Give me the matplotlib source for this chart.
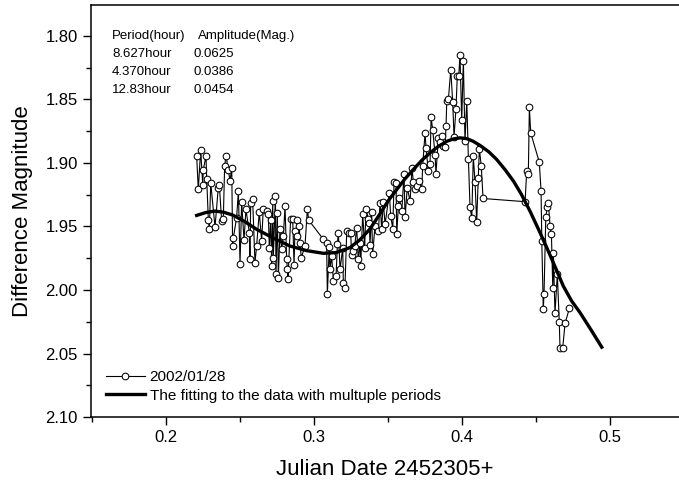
import matplotlib
matplotlib.use("Agg")
import matplotlib.pyplot as plt
from matplotlib.ticker import MultipleLocator

plt.rcParams['font.family'] = ['Liberation Sans', 'DejaVu Sans']

# observed points, 2002/01/28 (x = JD - 2452305)
obs_x = [0.2207, 0.2218, 0.2234, 0.2248, 0.2252, 0.2270, 0.2275, 0.2286, 0.2293, 0.2302,
         0.2331, 0.2353, 0.2360, 0.2376, 0.2387, 0.2396, 0.2405, 0.2421, 0.2432, 0.2444,
         0.2450, 0.2455, 0.2477, 0.2489, 0.2500, 0.2511, 0.2527, 0.2540, 0.2563, 0.2567,
         0.2572, 0.2585, 0.2601, 0.2612, 0.2630, 0.2646, 0.2657, 0.2680, 0.2691, 0.2698,
         0.2707, 0.2714, 0.2721, 0.2725, 0.2739, 0.2743, 0.2752, 0.2759, 0.2770, 0.2781,
         0.2793, 0.2804, 0.2815, 0.2820, 0.2824, 0.2842, 0.2856, 0.2865, 0.2871, 0.2883,
         0.2887, 0.2901, 0.2905, 0.2914, 0.2939, 0.2955, 0.2964, 0.3063, 0.3085, 0.3090,
         0.3103, 0.3108, 0.3119, 0.3131, 0.3149, 0.3158, 0.3164, 0.3176, 0.3194, 0.3198,
         0.3209, 0.3221, 0.3239, 0.3248, 0.3254, 0.3266, 0.3275, 0.3288, 0.3299, 0.3311,
         0.3315, 0.3329, 0.3342, 0.3351, 0.3367, 0.3374, 0.3378, 0.3389, 0.3396, 0.3412,
         0.3435, 0.3446, 0.3457, 0.3468, 0.3480, 0.3509, 0.3518, 0.3532, 0.3541, 0.3554,
         0.3559, 0.3570, 0.3576, 0.3593, 0.3608, 0.3615, 0.3630, 0.3649, 0.3662, 0.3671,
         0.3682, 0.3694, 0.3711, 0.3728, 0.3734, 0.3750, 0.3757, 0.3772, 0.3784, 0.3791,
         0.3802, 0.3818, 0.3824, 0.3840, 0.3851, 0.3863, 0.3870, 0.3885, 0.3892, 0.3897,
         0.3908, 0.3924, 0.3937, 0.3946, 0.3959, 0.3968, 0.3978, 0.3986, 0.3998, 0.4009,
         0.4020, 0.4032, 0.4043, 0.4054, 0.4066, 0.4076, 0.4088, 0.4099, 0.4110, 0.4117,
         0.4130, 0.4142, 0.4426, 0.4437, 0.4448, 0.4455, 0.4464, 0.4522, 0.4534, 0.4539,
         0.4549, 0.4554, 0.4566, 0.4576, 0.4583, 0.4595, 0.4604, 0.4613, 0.4617, 0.4628,
         0.4644, 0.4657, 0.4662, 0.4680, 0.4696, 0.4725]
obs_y = [1.8947, 1.9209, 1.8900, 1.9170, 1.9052, 1.8947, 1.9130, 1.9450, 1.9523, 1.9157,
         1.9505, 1.9196, 1.9170, 1.9458, 1.9444, 1.9026, 1.8942, 1.9052, 1.9144, 1.9039,
         1.9654, 1.9588, 1.9431, 1.9222, 1.9795, 1.9308, 1.9607, 1.9366, 1.9549, 1.9758,
         1.9319, 1.9282, 1.9785, 1.9654, 1.9387, 1.9614, 1.9366, 1.9379, 1.9405, 1.9667,
         1.9450, 1.9811, 1.9301, 1.9745, 1.9261, 1.9876, 1.9392, 1.9902, 1.9523, 1.9680,
         1.9575, 1.9340, 1.9758, 1.9837, 1.9915, 1.9439, 1.9444, 1.9805, 1.9536, 1.9575,
         1.9450, 1.9497, 1.9628, 1.9745, 1.9654, 1.9361, 1.9450, 1.9601, 1.9628, 2.0033,
         1.9659, 1.9837, 1.9732, 1.9928, 1.9889, 1.9641, 1.9549, 1.9837, 1.9667, 1.9941,
         1.9981, 1.9536, 1.9549, 1.9554, 1.9727, 1.9693, 1.9654, 1.9510, 1.9758, 1.9628,
         1.9811, 1.9400, 1.9667, 1.9366, 1.9439, 1.9471, 1.9649, 1.9387, 1.9717, 1.9497,
         1.9536, 1.9313, 1.9517, 1.9308, 1.9484, 1.9235, 1.9418, 1.9517, 1.9151, 1.9156,
         1.9557, 1.9340, 1.9274, 1.9379, 1.9086, 1.9426, 1.9196, 1.9301, 1.9039, 1.9151,
         1.9209, 1.9183, 1.9144, 1.9209, 1.9026, 1.8764, 1.8882, 1.9065, 1.9005, 1.8641,
         1.8743, 1.8934, 1.9086, 1.8803, 1.8837, 1.8785, 1.8869, 1.8877, 1.8712, 1.8510,
         1.8497, 1.8267, 1.8523, 1.8795, 1.8575, 1.8319, 1.8314, 1.8155, 1.8659, 1.8196,
         1.8830, 1.8510, 1.8968, 1.9348, 1.9434, 1.8947, 1.9151, 1.9465, 1.9117, 1.8889,
         1.9026, 1.9280, 1.9305, 1.9065, 1.9086, 1.8563, 1.8764, 1.8994, 1.9222, 1.9615,
         2.0151, 2.0033, 1.9423, 1.9348, 1.9313, 1.9497, 1.9562, 1.9980, 1.9706, 2.0182,
         1.9876, 2.0253, 2.0455, 2.0459, 2.0263, 2.0145]

# multi-period fit
fit_x = [0.2207, 0.2270, 0.2331, 0.2390, 0.2450, 0.2530, 0.2613, 0.2740, 0.2838, 0.2950,
         0.3063, 0.3150, 0.3243, 0.3310, 0.3378, 0.3446, 0.3500, 0.3559, 0.3615, 0.3671,
         0.3728, 0.3784, 0.3840, 0.3897, 0.3940, 0.3986, 0.4032, 0.4075, 0.4122, 0.4180,
         0.4234, 0.4290, 0.4348, 0.4400, 0.4459, 0.4515, 0.4572, 0.4630, 0.4684, 0.4740,
         0.4797, 0.4870, 0.4944]
fit_y = [1.9413, 1.9390, 1.9379, 1.9388, 1.9410, 1.9460, 1.9523, 1.9600, 1.9654, 1.9690,
         1.9711, 1.9705, 1.9666, 1.9605, 1.9520, 1.9400, 1.9300, 1.9209, 1.9125, 1.9052,
         1.8980, 1.8921, 1.8870, 1.8830, 1.8812, 1.8803, 1.8809, 1.8830, 1.8863, 1.8912,
         1.8973, 1.9052, 1.9144, 1.9245, 1.9379, 1.9518, 1.9665, 1.9820, 1.9968, 2.0085,
         2.0177, 2.0310, 2.0449]

periods = ["8.627hour", "4.370hour", "12.83hour"]
amplitudes = ["0.0625", "0.0386", "0.0454"]

fig = plt.figure(figsize=(6.79, 4.84), dpi=100)
ax = fig.add_axes([0.134, 0.138, 0.866, 0.852])

ax.plot(obs_x, obs_y, color='black', lw=0.8, marker='o', markersize=4.8,
        markerfacecolor='white', markeredgecolor='black', markeredgewidth=0.75,
        label='2002/01/28')
ax.plot(fit_x, fit_y, color='black', lw=2.4, solid_joinstyle='round',
        label='The fitting to the data with multuple periods')

ax.set_xlim(0.1493, 0.5466)
ax.set_ylim(2.10, 1.7757)
ax.xaxis.set_major_locator(MultipleLocator(0.1))
ax.xaxis.set_minor_locator(MultipleLocator(0.05))
ax.yaxis.set_major_locator(MultipleLocator(0.05))
ax.yaxis.set_minor_locator(MultipleLocator(0.025))
ax.xaxis.set_major_formatter(plt.FuncFormatter(lambda v, p: f"{v:.1f}"))
ax.yaxis.set_major_formatter(plt.FuncFormatter(lambda v, p: f"{v:.2f}"))
ax.tick_params(which='major', direction='out', length=6, width=1.0, labelsize=12)
ax.tick_params(which='minor', direction='out', length=3.5, width=1.0)
ax.tick_params(top=False, right=False)
ax.spines['right'].set_visible(False)
for s in ['left', 'bottom', 'top']:
    ax.spines[s].set_linewidth(1.1)

ax.set_xlabel('Julian Date 2452305+', fontsize=16)
ax.set_ylabel('Difference Magnitude', fontsize=16)
ax.xaxis.set_label_coords(0.5, -0.126)
ax.xaxis.label.set_va('center')
ax.yaxis.set_label_coords(-0.117, 0.5)
ax.yaxis.label.set_va('center')

ax.text(0.0357, 0.925, 'Period(hour)', transform=ax.transAxes, fontsize=9.5, va='center')
ax.text(0.182, 0.925, 'Amplitude(Mag.)', transform=ax.transAxes, fontsize=9.5, va='center')
for i in range(len(periods)):
    yy = 0.881 - i * 0.0437
    ax.text(0.0357, yy, periods[i], transform=ax.transAxes, fontsize=9.5, va='center')
    ax.text(0.175, yy, amplitudes[i], transform=ax.transAxes, fontsize=9.5, va='center')

ax.legend(loc='lower left', bbox_to_anchor=(0.0255, 0.035), frameon=False, fontsize=11,
          numpoints=1, handlelength=2.55, handletextpad=0.3, labelspacing=0.3,
          borderaxespad=0, borderpad=0)

fig.savefig('out.png', dpi=100)
